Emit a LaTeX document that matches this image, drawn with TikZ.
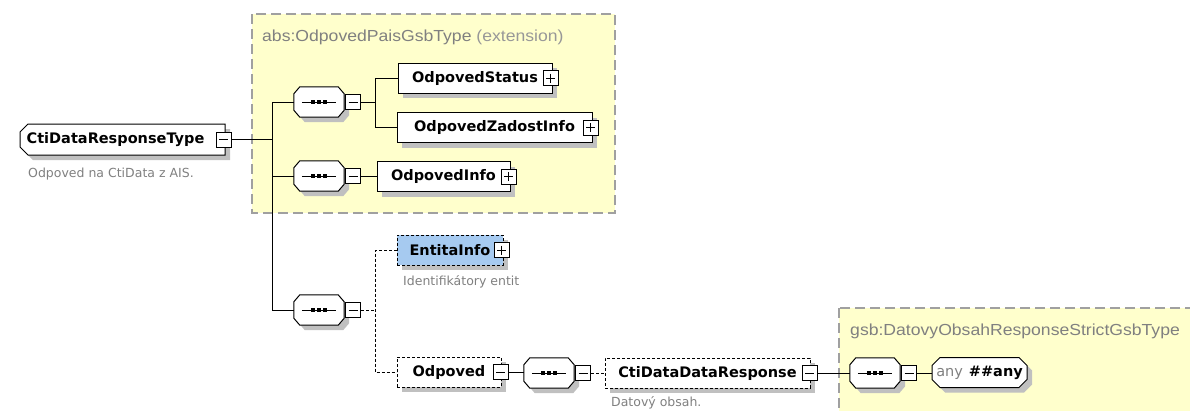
\documentclass[tikz,border=0pt]{standalone}
\usepackage{fontspec}
\setmainfont{DejaVu Sans}
\newfontfamily\titlefont[FakeStretch=1.1]{Liberation Sans}
\usetikzlibrary{shapes.misc,shadows,calc}

\definecolor{extfill}{HTML}{FFFFCC}
\definecolor{extline}{HTML}{A0A0A0}
\definecolor{shade}{HTML}{C0C0C0}
\definecolor{txtgray}{HTML}{808080}
\definecolor{txtlight}{HTML}{989898}
\definecolor{optfill}{HTML}{A6CAF0}

\tikzset{
  x=1pt, y=-1pt,
  base/.style={fill=white, draw=black, line width=1pt,
    drop shadow={shadow xshift=5pt, shadow yshift=-5pt, fill=shade, opacity=1}},
  elem/.style={base, rectangle, minimum height=30pt, inner sep=0pt,
    font=\fontsize{14.5}{16}\selectfont\bfseries},
  optelem/.style={elem, dash pattern=on 3pt off 2pt},
  typebox/.style={elem, chamfered rectangle, chamfered rectangle xsep=4pt,
    chamfered rectangle ysep=4pt},
  seqframe/.style={rectangle, minimum width=50pt, minimum height=30pt, inner sep=0pt},
  btn/.style={rectangle, draw=black, fill=white, line width=1pt, minimum size=15pt, inner sep=0pt},
  minusbtn/.style={btn, path picture={
      \draw[line width=1pt] ([xshift=3pt]path picture bounding box.west) -- ([xshift=-3pt]path picture bounding box.east);}},
  plusbtn/.style={btn, path picture={
      \draw[line width=1pt] ([xshift=3pt]path picture bounding box.west) -- ([xshift=-3pt]path picture bounding box.east);
      \draw[line width=1pt] ([yshift=-3pt]path picture bounding box.north) -- ([yshift=3pt]path picture bounding box.south);}},
  conn/.style={draw=black, line width=1pt},
  optconn/.style={conn, dash pattern=on 3pt off 2pt},
  extbox/.style={fill=extfill, draw=extline, line width=1.5pt, dash pattern=on 10pt off 5pt},
  cmt/.style={text=txtgray, font=\fontsize{12.5}{14}\selectfont, inner sep=0pt},
  ttl/.style={text=txtgray, font=\titlefont\fontsize{16}{18}\selectfont, inner sep=0pt},
}

% sequence compositor: octagon with a line and three dots, plus its collapse button
\newcommand\seqgroup[3]{%
  \node[seqframe] (#1) at (#2) {};
  \draw[base] ([xshift=6pt]#1.north west) -- ([xshift=-6pt]#1.north east)
    -- ([yshift=-7pt]#1.north east) -- ([yshift=7pt]#1.south east)
    -- ([xshift=-6pt]#1.south east) -- ([xshift=6pt]#1.south west)
    -- ([yshift=7pt]#1.south west) -- ([yshift=-7pt]#1.north west) -- cycle;
  \draw[line width=1pt] ([xshift=8pt]#1.west) -- ([xshift=-8pt]#1.east);
  \foreach \d in {-6,0,6}
    \fill[black] ($(#1.center)+(\d pt,0pt)+(-2pt,-2pt)$) rectangle ++(4pt,4pt);
  \node[minusbtn, anchor=west] (#3) at ([xshift=1pt]#1.east) {};
}

\begin{document}
\begin{tikzpicture}
\path[use as bounding box] (0,0) rectangle (1190,410);
\clip (0,0) rectangle (1190,410);

% extension groups
\draw[extbox] (252,14) rectangle (615,213);
\node[ttl, anchor=base west] (t1) at (262,41) {abs:OdpovedPaisGsbType \textcolor{txtlight}{(extension)}};
\draw[extbox] (839,308) rectangle (1210,430);
\node[ttl, anchor=base west] (t2) at (850,335) {gsb:DatovyObsahResponseStrictGsbType};

% root type
\node[typebox, chamfered rectangle corners={north west,south west}, minimum width=205pt, minimum height=31pt]
  (main) at (122.5,139.5) {CtiDataResponseType\kern14pt};
\node[minusbtn] (b0) at ([xshift=-2pt]main.east) {};
\node[cmt, anchor=base west] (c0) at (28,177) {Odpoved na CtiData z AIS.};

% sequences
\seqgroup{seq1}{319,102}{b1}
\seqgroup{seq2}{319,176}{b2}
\seqgroup{seq3}{319,310}{b3}
\seqgroup{seq4}{549,373}{b4}
\seqgroup{seq5}{875,373}{b5}

% elements
\node[elem, minimum width=154pt] (st) at (475,78) {OdpovedStatus};
\node[plusbtn] (bst) at ([xshift=-2pt]st.east) {};
\node[elem, minimum width=195pt] (za) at (494.5,127.5) {OdpovedZadostInfo};
\node[plusbtn] (bza) at ([xshift=-2pt]za.east) {};
\node[elem, minimum width=133pt] (inf) at (443.5,176.5) {OdpovedInfo};
\node[plusbtn] (binf) at ([xshift=-2pt]inf.east) {};
\node[optelem, fill=optfill, minimum width=106pt] (ent) at (450,250) {EntitaInfo};
\node[plusbtn] (bent) at ([xshift=-2pt]ent.east) {};
\node[cmt, anchor=base west] (c1) at (403,285) {Identifikátory entit};
\node[optelem, minimum width=104pt] (odp) at (449,372) {Odpoved};
\node[minusbtn] (bodp) at ([xshift=-1pt]odp.east) {};
\node[optelem, minimum width=205pt] (cdr) at (707.5,373) {CtiDataDataResponse};
\node[minusbtn] (bcdr) at ([xshift=-1pt]cdr.east) {};
\node[cmt, anchor=base west] (c2) at (611,406) {Datový obsah.};
\node[typebox, chamfered rectangle corners={north west,south west,north east,south east}, minimum width=95pt]
  (anyb) at (979.5,372.5) {\textcolor{txtgray}{\mdseries any}\hspace{6pt}\#\#any};

% connectors
\coordinate (trunk) at (272,0);
\draw[conn] (b0.east) -- (b0.east -| trunk);
\draw[conn] (seq1.west) -- (seq1.west -| trunk) -- (seq3.west -| trunk) -- (seq3.west);
\draw[conn] (seq2.west) -- (seq2.west -| trunk);

\coordinate (bus1) at (375,0);
\draw[conn] (b1.east) -- (b1.east -| bus1);
\draw[conn] (st.west) -- (st.west -| bus1) -- (za.west -| bus1) -- (za.west);
\draw[conn] (b2.east) -- (b2.east -| inf.west);

\draw[optconn] (b3.east) -- (b3.east -| bus1);
\draw[optconn] (ent.west) -- (ent.west -| bus1) -- (odp.west -| bus1) -- (odp.west);

\draw[conn] (bodp.east) -- (bodp.east -| seq4.west);
\draw[optconn] (b4.east) -- (b4.east -| cdr.west);
\draw[conn] (bcdr.east) -- (bcdr.east -| seq5.west);
\draw[conn] (b5.east) -- (b5.east -| anyb.west);
\end{tikzpicture}
\end{document}
